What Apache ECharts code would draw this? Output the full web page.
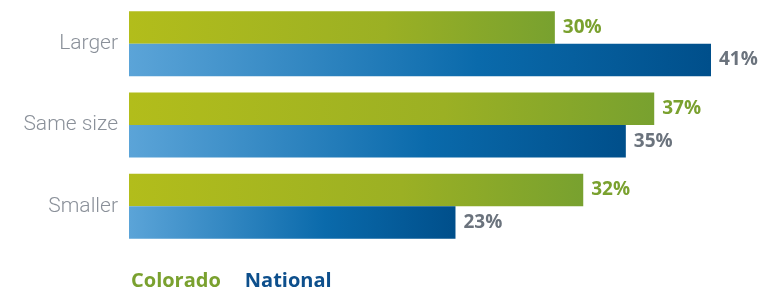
<!DOCTYPE html>
<html>
<head>
<meta charset="utf-8">
<script src="https://cdn.jsdelivr.net/npm/echarts@6/dist/echarts.min.js"></script>
<style>
html, body { margin: 0; padding: 0; background: #fff; }
#chartBox { width: 763px; height: 291px; }
</style>
</head>
<body>
<div id="chartBox"></div>
<script>
// 数据
var categories = ['Larger', 'Same size', 'Smaller'];
var coloradoData = [30, 37, 32];
var nationalData = [41, 35, 23];

function barGradient(c0, c1, c2) {
    return new echarts.graphic.LinearGradient(0, 0, 1, 0, [
        { offset: 0, color: c0 },
        { offset: 0.6, color: c1 },
        { offset: 1, color: c2 }
    ]);
}

var myChart = echarts.init(document.getElementById('chartBox'));

var option = {
    animation: false,
    legend: {
        left: 121,
        top: 266,
        icon: 'none',
        itemWidth: 0,
        itemHeight: 0,
        itemGap: 19,
        selectedMode: false,
        textStyle: {
            fontFamily: 'Open Sans',
            fontWeight: 'bold',
            fontSize: 20
        },
        data: [
            { name: 'Colorado', textStyle: { color: '#7aa12f' } },
            { name: 'National', textStyle: { color: '#0d4f8c' } }
        ]
    },
    grid: {
        left: 129,
        width: 582,
        top: 3,
        height: 244
    },
    xAxis: {
        type: 'value',
        min: 0,
        max: 41,
        show: false
    },
    yAxis: {
        type: 'category',
        inverse: true,
        data: categories,
        axisLine: { show: false },
        axisTick: { show: false },
        axisLabel: {
            margin: 11,
            color: '#8a9099',
            fontFamily: 'Roboto',
            fontWeight: 300,
            fontSize: 21
        }
    },
    series: [
        {
            name: 'Colorado',
            type: 'bar',
            data: coloradoData,
            barWidth: 32.5,
            barGap: '0%',
            itemStyle: {
                color: barGradient('#b2bd1b', '#9bb024', '#78a12f')
            },
            label: {
                show: true,
                position: 'right',
                distance: 8,
                formatter: '{c}%',
                color: '#7aa12f',
                fontFamily: 'Open Sans',
                fontWeight: 'bold',
                fontSize: 19
            }
        },
        {
            name: 'National',
            type: 'bar',
            data: nationalData,
            barWidth: 32.5,
            itemStyle: {
                color: barGradient('#5ba4d8', '#0a6aab', '#004f8b')
            },
            label: {
                show: true,
                position: 'right',
                distance: 8,
                formatter: '{c}%',
                color: '#6b737d',
                fontFamily: 'Open Sans',
                fontWeight: 'bold',
                fontSize: 19
            }
        }
    ]
};

myChart.setOption(option);
</script>
</body>
</html>
